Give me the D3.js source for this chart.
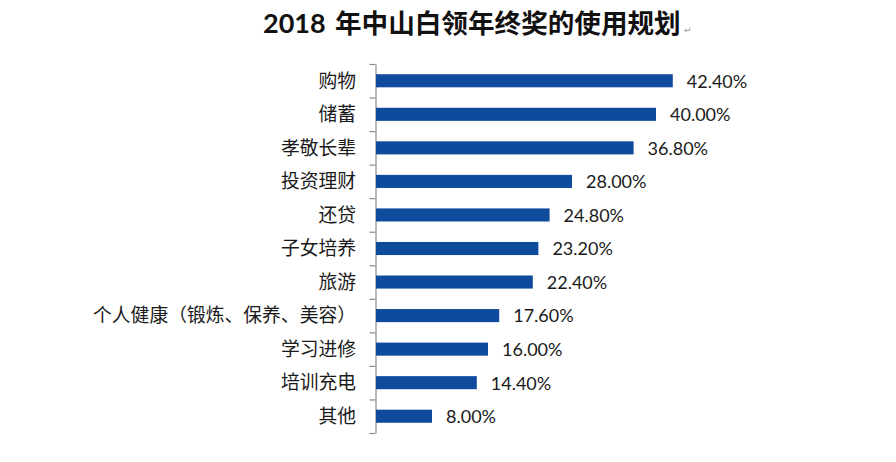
<!DOCTYPE html>
<html><head><meta charset="utf-8">
<script src="https://cdn.jsdelivr.net/npm/d3@7"></script>
<style>html,body{margin:0;padding:0;background:#fff;}</style>
</head><body>
<script>
const categories = ["购物","储蓄","孝敬长辈","投资理财","还贷","子女培养","旅游","个人健康（锻炼、保养、美容）","学习进修","培训充电","其他"];
const values = [42.4, 40.0, 36.8, 28.0, 24.8, 23.2, 22.4, 17.6, 16.0, 14.4, 8.0];
const valueLabels = ["42.40%","40.00%","36.80%","28.00%","24.80%","23.20%","22.40%","17.60%","16.00%","14.40%","8.00%"];
const titleYear = "2018";
const titleText = "年中山白领年终奖的使用规划";

const W = 896, H = 462;
const svg = d3.select("body").append("svg").attr("width", W).attr("height", H);

const x = d3.scaleLinear().domain([0, 50]).range([376, 726]);
const y = d3.scaleBand().domain(categories).range([64, 433]).paddingInner(0.61).paddingOuter(0.305);
const yb = d3.scaleLinear().domain([0, categories.length]).range([64, 433]);

const t = svg.append("text").attr("x", 263).attr("y", 33).attr("fill", "#111");
t.append("tspan").style("font-family", "Lato, sans-serif").style("font-weight", "bold")
  .style("font-size", "27px").text(titleYear);
t.append("tspan").attr("x", 335).style("font-family", "'Noto Sans CJK SC', sans-serif").style("font-weight", "bold")
  .style("font-size", "26.6px").text(titleText);
svg.append("text").attr("x", 684).attr("y", 33)
  .style("font-family", "'DejaVu Sans', sans-serif").style("font-size", "9px")
  .attr("fill", "#999").text("↵");

const axis = d3.axisLeft(yb).tickValues(d3.range(categories.length + 1)).tickFormat("").tickSize(6).tickSizeOuter(0);
const ag = svg.append("g").attr("transform", "translate(375.5,0)").call(axis);
ag.selectAll("path,line").attr("stroke", "#8c8c8c").attr("stroke-width", 1.2);

svg.selectAll("rect.bar").data(values).join("rect").attr("class", "bar")
  .attr("x", x(0)).attr("y", (d, i) => y(categories[i]))
  .attr("width", d => x(d) - x(0)).attr("height", y.bandwidth())
  .attr("fill", "#0f4b9d");

svg.selectAll("text.cat").data(categories).join("text").attr("class", "cat")
  .attr("x", 356).attr("y", d => y(d) + y.bandwidth() / 2).attr("dy", "0.36em")
  .attr("text-anchor", "end")
  .style("font-family", "'Noto Sans CJK SC', sans-serif").style("font-size", "18.8px")
  .attr("fill", "#1a1a1a").text(d => d);

svg.selectAll("text.val").data(values).join("text").attr("class", "val")
  .attr("x", d => x(d) + 14).attr("y", (d, i) => y(categories[i]) + y.bandwidth() / 2).attr("dy", "0.38em")
  .style("font-family", "Lato, sans-serif").style("font-size", "18px")
  .attr("fill", "#1a1a1a").text((d, i) => valueLabels[i]);
</script>
</body></html>
